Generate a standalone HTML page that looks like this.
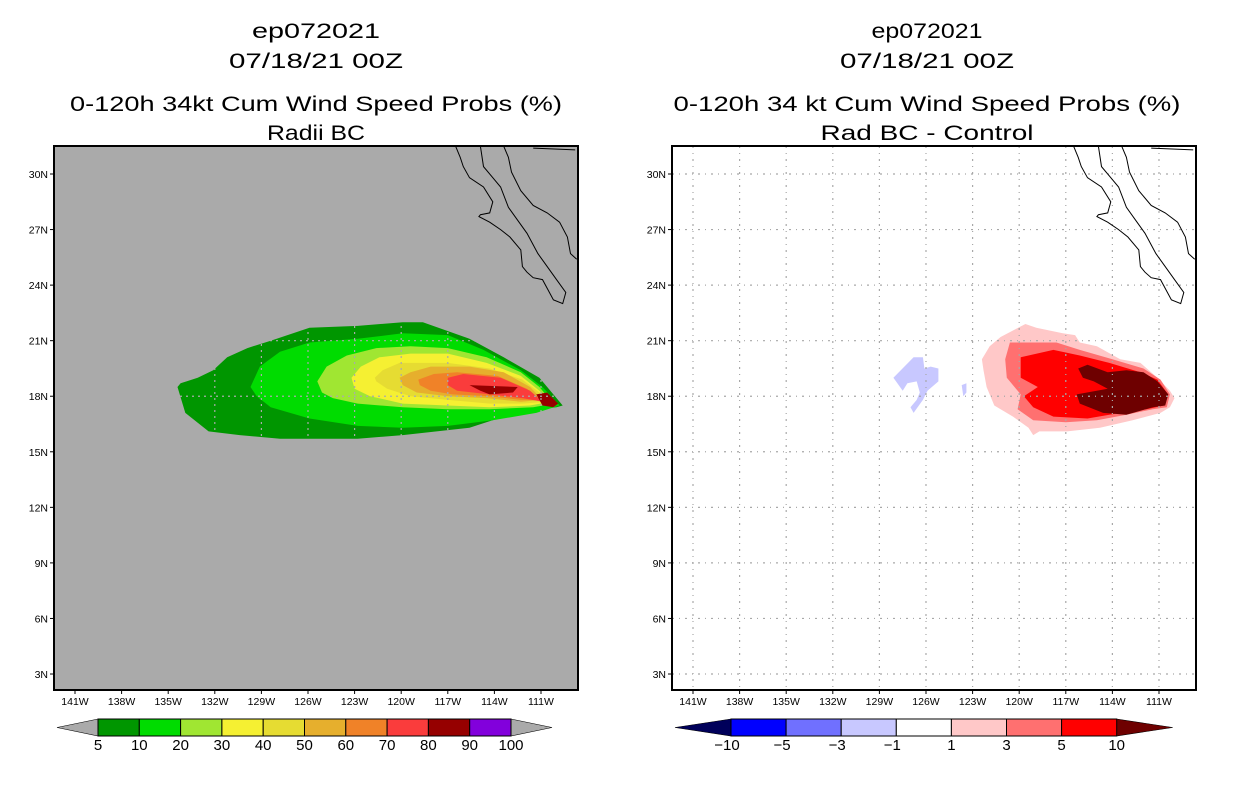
<!DOCTYPE html>
<html><head><meta charset="utf-8"><style>
body{margin:0;background:#fff;width:1236px;height:800px;overflow:hidden}
svg{display:block;font-family:"Liberation Sans",sans-serif}
</style></head><body>
<svg id="c" width="1236" height="800" xmlns="http://www.w3.org/2000/svg">
<defs>
<clipPath id="clipL"><rect x="54" y="146" width="524" height="544"/></clipPath>
<clipPath id="clipR"><rect x="672" y="146" width="524" height="544"/></clipPath>
</defs>
<g id="left"></g>
<g id="right"></g>
</svg>
<script>
// ---- data (lon in degrees W, lat in degrees N) ----
const lonTicks=[141,138,135,132,129,126,123,120,117,114,111];
const lonTickLabels=["141W","138W","135W","132W","129W","126W","123W","120W","117W","114W","111W"];
const latTicks=[30,27,24,21,18,15,12,9,6,3];
const latTickLabels=["30N","27N","24N","21N","18N","15N","12N","9N","6N","3N"];

const probLevels=["5","10","20","30","40","50","60","70","80","90","100"];
const probColors=["#009600","#00dc00","#a0e632","#f5f032","#e6dc32","#e6af2d","#f08228","#fa3c3c","#960000","#8200dc"];
const diffLevels=["\u221210","\u22125","\u22123","\u22121","1","3","5","10"];
const diffColors=["#0000ff","#7070ff","#c8c8ff","#ffffff","#ffc8c8","#ff7070","#ff0000"];

const p5=[[134.4,18.5],[133.9,17.1],[132.4,16.1],[130.4,15.9],[127.8,15.7],[122.8,15.7],[119.9,15.9],[115.6,16.3],[113.4,16.9],[111.3,17.3],[110.0,17.4],[109.6,17.5],[111.1,19.0],[113.4,20.1],[115.6,21.1],[118.6,22.0],[119.9,22.0],[122.8,21.8],[125.9,21.7],[128.4,21.0],[129.9,20.6],[131.2,20.1],[132.1,19.4],[133.1,19.0],[134.2,18.7]];
const p10=[[129.7,18.5],[129.1,19.6],[127.8,20.4],[125.9,20.9],[122.8,21.1],[119.9,21.4],[117.0,21.3],[114.7,20.5],[112.3,19.4],[110.9,18.5],[109.8,17.5],[111.3,17.1],[114.1,16.7],[117.0,16.4],[119.9,16.3],[122.8,16.4],[125.9,16.8],[128.4,17.4],[129.3,18.0]];
const p20=[[125.4,18.8],[124.8,19.6],[123.5,20.2],[121.6,20.6],[119.4,20.7],[117.0,20.6],[114.5,20.1],[112.3,19.3],[111.1,18.5],[110.2,17.6],[111.5,17.4],[114.3,17.3],[117.0,17.3],[119.9,17.4],[122.8,17.6],[124.4,17.9],[125.1,18.2]];
const p30=[[123.2,19.0],[122.6,19.6],[121.4,20.1],[119.4,20.3],[117.0,20.3],[114.5,19.8],[112.3,19.1],[111.1,18.3],[110.4,17.7],[111.7,17.5],[114.3,17.4],[117.0,17.5],[119.9,17.6],[122.0,18.0],[123.0,18.4]];
const p40=[[121.7,19.0],[121.2,19.4],[120.1,19.8],[117.0,19.8],[114.3,19.5],[112.2,18.9],[111.1,18.2],[110.6,17.7],[112.2,17.6],[114.3,17.6],[117.0,17.8],[119.4,18.0],[120.9,18.4],[121.6,18.8]];
const p50=[[120.1,19.0],[119.4,19.3],[118.1,19.6],[115.6,19.6],[113.4,19.3],[111.7,18.5],[110.9,17.8],[112.3,17.7],[114.5,17.9],[117.0,18.0],[119.0,18.2],[119.9,18.6]];
const p60=[[118.9,18.9],[117.9,19.2],[116.4,19.3],[113.8,19.1],[111.9,18.4],[111.1,17.8],[112.3,17.8],[114.3,18.0],[116.7,18.1],[118.1,18.3],[118.8,18.6]];
const p70=[[117.0,19.0],[116.0,19.2],[113.6,19.0],[111.7,18.3],[110.9,17.7],[112.2,17.9],[114.3,18.1],[116.4,18.3],[117.0,18.6]];
const p80a=[[115.6,18.6],[112.5,18.5],[112.8,18.2],[114.3,18.1],[114.9,18.3]];
const p80b=[[111.3,18.1],[110.6,18.2],[109.9,17.6],[110.2,17.4],[110.9,17.5]];

const d1=[[122.4,20.0],[121.9,20.7],[121.2,21.2],[119.6,21.9],[118.9,21.7],[117.2,21.4],[116.4,21.3],[116.1,20.9],[115.0,20.7],[113.5,20.0],[112.2,19.8],[111.1,19.0],[110.3,18.3],[110.0,17.9],[110.3,17.4],[110.9,17.1],[112.7,16.7],[114.8,16.3],[116.9,16.1],[118.7,16.1],[119.1,15.9],[119.4,16.3],[120.4,16.9],[121.6,17.5],[122.1,18.5],[122.3,19.4]];
const d3=[[120.9,20.0],[120.6,20.9],[119.3,20.9],[117.6,20.9],[116.1,20.5],[114.0,20.0],[112.0,19.5],[110.9,18.9],[110.3,18.1],[110.5,17.4],[111.4,17.3],[113.1,17.0],[115.0,16.7],[117.0,16.6],[119.1,16.7],[120.1,17.3],[119.9,18.1],[120.8,19.0]];
const d5=[[119.9,20.1],[117.8,20.5],[116.1,20.2],[114.2,19.8],[112.2,19.3],[111.1,18.9],[110.5,18.2],[110.7,17.5],[111.8,17.3],[113.5,17.1],[115.6,16.8],[117.8,16.9],[119.1,17.4],[119.7,18.0],[118.8,18.5],[119.9,19.0]];
const d10=[[116.2,19.5],[115.6,19.7],[114.3,19.3],[113.1,19.4],[112.0,19.3],[111.1,18.8],[110.4,18.1],[110.6,17.5],[111.4,17.4],[113.1,17.0],[114.6,17.1],[116.1,17.6],[116.3,18.1],[114.3,18.4],[115.2,18.8],[115.9,19.0]];
const dneg1a=[[128.1,19.0],[126.8,20.1],[126.2,20.1],[126.1,19.5],[125.7,19.6],[125.2,19.5],[125.2,18.8],[125.9,18.3],[126.2,17.8],[126.8,17.1],[127.0,17.4],[126.6,17.8],[126.4,18.2],[126.6,18.8],[127.2,18.7],[127.5,18.3]];
const dneg1b=[[123.7,18.6],[123.4,18.7],[123.4,18.2],[123.6,18.0]];

const coastWest=[[116.5,31.5],[116.2,30.9],[116.0,30.4],[115.6,29.8],[114.7,29.3],[114.1,28.5],[114.3,27.9],[114.9,27.8],[115.0,27.7],[114.3,27.4],[113.6,27.0],[113.0,26.6],[112.3,25.9],[112.2,25.0],[111.9,24.7],[111.5,24.4],[110.9,24.3],[110.2,23.2],[109.6,23.0],[109.4,23.6],[110.0,24.3],[110.6,25.0],[111.2,25.7],[111.9,26.8],[112.5,27.5],[113.1,28.2],[113.6,29.3],[114.1,29.8],[114.7,30.4],[114.9,31.5]];
const coastMain=[[113.4,31.5],[113.1,30.9],[112.9,30.1],[112.3,29.1],[111.5,28.3],[110.6,27.9],[109.8,27.4],[109.3,26.6],[109.1,25.7],[108.7,25.4]];
const coastTop=[[111.5,31.4],[108.8,31.3]];

// ---- helpers ----
const NS="http://www.w3.org/2000/svg";
function el(tag,attrs,parent){const e=document.createElementNS(NS,tag);for(const k in attrs)e.setAttribute(k,attrs[k]);parent.appendChild(e);return e;}
function X(x0,lon){return x0+(142.352-lon)*15.533;}
function Y(lat){return 146+(31.512-lat)*18.519;}
function pts(x0,arr){return arr.map(p=>X(x0,p[0]).toFixed(1)+","+Y(p[1]).toFixed(1)).join(" ");}

function panel(g,x0,bg,clip,polys,cx,titles,gridDash,gridCol){
  el('rect',{x:x0,y:146,width:524,height:544,fill:bg},g);
  const pg=el('g',{'clip-path':'url(#'+clip+')'},g);
  polys.forEach(pp=>{
    const p=el('polygon',{points:pts(x0,pp[0]),fill:pp[1]},pg);
    
    
  });
  lonTicks.forEach(lon=>{
    const l=el('line',{x1:X(x0,lon),x2:X(x0,lon),y1:146,y2:690,stroke:gridCol,'stroke-width':1.2,'stroke-dasharray':gridDash},pg);
    
    
  });
  latTicks.forEach(lat=>{
    const l=el('line',{x1:x0,x2:x0+524,y1:Y(lat),y2:Y(lat),stroke:gridCol,'stroke-width':1.2,'stroke-dasharray':gridDash},pg);
    
    
  });
  [coastWest,coastMain,coastTop].forEach(c=>{
    const l=el('polyline',{points:pts(x0,c),fill:'none',stroke:'#000','stroke-width':1},pg);
    
    
  });
  const fr=el('rect',{x:x0,y:146,width:524,height:544,fill:'none',stroke:'#000','stroke-width':2},g);
  
  
  lonTicks.forEach((lon,i)=>{
    el('line',{x1:X(x0,lon),x2:X(x0,lon),y1:690,y2:694,stroke:'#000'},g);
    const t=el('text',{x:X(x0,lon),y:705,'font-size':10.5,'text-anchor':'middle'},g);
    t.textContent=lonTickLabels[i];
    
    
  });
  latTicks.forEach((lat,i)=>{
    el('line',{x1:x0-4,x2:x0,y1:Y(lat),y2:Y(lat),stroke:'#000'},g);
    const t=el('text',{x:x0-6,y:Y(lat)+4,'font-size':10.5,'text-anchor':'end'},g);
    t.textContent=latTickLabels[i];
    
    
  });
  const ys=[38,68,111,140];
  titles.forEach((tt,i)=>{
    const t=el('text',{x:cx,y:ys[i],'font-size':21,'text-anchor':'middle',textLength:tt[1],lengthAdjust:'spacingAndGlyphs'},g);
    t.textContent=tt[0];
    
    
  });
}

function colorbar(g,xStart,boxW,colors,labels,leftCol,rightCol,triW,labelOffset){
  const y0=719,h=17;
  const n=colors.length, xEnd=xStart+n*boxW;
  const lt=el('polygon',{points:`${xStart},${y0} ${xStart-triW},${y0+h/2} ${xStart},${y0+h}`,fill:leftCol,stroke:'#000','stroke-width':0.6},g);
  
  
  const rt=el('polygon',{points:`${xEnd},${y0} ${xEnd+triW},${y0+h/2} ${xEnd},${y0+h}`,fill:rightCol,stroke:'#000','stroke-width':0.6},g);
  
  
  colors.forEach((c,i)=>{
    const r=el('rect',{x:xStart+i*boxW,y:y0,width:boxW,height:h,fill:c,stroke:'#000','stroke-width':1},g);
    
    
  });
  labels.forEach((s,i)=>{
    const t=el('text',{x:xStart+i*boxW+(s.startsWith('\u2212')?labelOffset:0),y:750,'font-size':15,'text-anchor':'middle'},g);
    t.textContent=s;
    
    
  });
}

const L=document.getElementById('left'), R=document.getElementById('right');
panel(L,54,'#aaaaaa','clipL',
  [[p5,probColors[0],'prob-5'],[p10,probColors[1],'prob-10'],[p20,probColors[2],'prob-20'],[p30,probColors[3],'prob-30'],[p40,probColors[4],'prob-40'],[p50,probColors[5],'prob-50'],[p60,probColors[6],'prob-60'],[p70,probColors[7],'prob-70'],[p80a,probColors[8],'prob-80'],[p80b,probColors[8],'prob-80-tip']],
  316,[["ep072021",128,'storm-id'],["07/18/21 00Z",174,'date-title'],["0-120h 34kt Cum Wind Speed Probs (%)",492,'chart-title'],["Radii BC",98,'chart-subtitle']],'2,4','#aaaaaa');
panel(R,672,'#ffffff','clipR',
  [[d1,diffColors[4],'diff-1'],[d3,diffColors[5],'diff-3'],[d5,diffColors[6],'diff-5'],[d10,'#6e0000','diff-10'],[dneg1a,diffColors[2],'diff-neg1'],[dneg1b,diffColors[2],'diff-neg1-small']],
  927,[["ep072021",111,'storm-id'],["07/18/21 00Z",174,'date-title'],["0-120h 34 kt Cum Wind Speed Probs (%)",507,'chart-title'],["Rad BC - Control",213,'chart-subtitle']],'2,5,1,5','#a8a8a8');
colorbar(L,98,41.3,probColors,probLevels,'#aaaaaa','#aaaaaa',41,0);
colorbar(R,731,55.1,diffColors,diffLevels,'#00005a','#6e0000',56,-4);
</script>
</body></html>
